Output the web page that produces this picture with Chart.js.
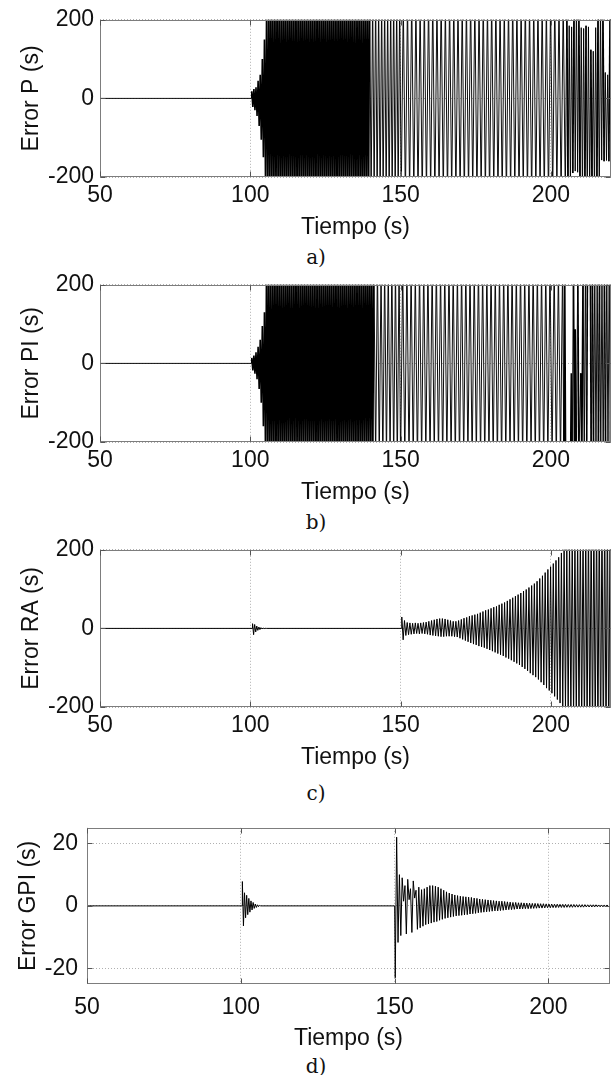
<!DOCTYPE html>
<html>
<head>
<meta charset="utf-8">
<title>Error de seguimiento</title>
<script src="https://cdn.jsdelivr.net/npm/chart.js@4.4.1/dist/chart.umd.min.js"></script>
<style>
body{ margin:0; background:#fff; width:613px; height:1075px; position:relative; overflow:hidden; }
canvas{ position:absolute; left:0; }
.cap{ position:absolute; left:266px; width:100px; text-align:center; font-family:"DejaVu Serif","Liberation Serif",serif; font-size:20px; line-height:24px; color:#111; }
</style>
</head>
<body>
<canvas id="c_p"   width="613" height="241" style="top:0px"></canvas>
<div class="cap" style="top:245px">a)</div>
<canvas id="c_pi"  width="613" height="241" style="top:265px"></canvas>
<div class="cap" style="top:510px">b)</div>
<canvas id="c_ra"  width="613" height="241" style="top:530px"></canvas>
<div class="cap" style="top:781px">c)</div>
<canvas id="c_gpi" width="613" height="247" style="top:805px"></canvas>
<div class="cap" style="top:1054px">d)</div>
<script>
// ejes
var X_TICKS     = [50, 100, 150, 200];
var Y_TICKS_BIG = [-200, 0, 200];
var Y_TICKS_GPI = [-20, 0, 20];

// segmentos: [t inicial (s), paso entre extremos (s), valores extremos]
// pares: [t, valor]

// ---- a) Error P
var errP_rest  = [[50, 0], [100.4, 0]];
var errP_grow  = [100.5, 0.35, [18,-22,24,-30,28,-45,45,-70,60,-105,100,-150,150,-205,210]];
var errP_dense = [105.75, 0.35, [
	-262,275,-270,281,-266,272,-279,268,-274,283,-261,270,-277,265,
	-271,279,-264,273,-282,267,-269,276,-263,280,-275,262,-268,277,
	-280,266,-272,274,-265,282,-276,263,-270,278,-267,271,-283,269,
	-264,276,-278,265,-273,281,-262,270,-279,267,-266,284,-271,274,
	-276,263,-269,280,-281,268,-265,277,-274,262,-283,272,-267,279,
	-268,282,-275,266,-262,273,-280,269,-271,285,-264,276,-278,263,
	-273,270,-266,284,-277,264,-282,271,-263,278,-269,267,-275,281]];
var errP_mid   = [140.2, 0.5, [-255,262,-248,270,-259,251,-266,258,-250,263,-257,249,-264,255,-252,268,-260,254,-249,261]];
var errP_late  = [150.2, 0.7, [
	-258,250,-262,255,-249,264,-256,251,-260,248,-265,257,-252,261,-247,259,-263,254,-250,266,
	-255,249,-261,258,-248,263,-257,252,-259,247,-264,256,-251,262,-246,258,-262,253,-249,265,
	-254,250,-260,257,-247,262,-256,251,-258,248,-263,255,-250,261,-247,257,-261,252,-248,264,
	-253,249,-259,256,-246,261,-255,250,-257,247,-262,254,-249,260,-246,256,-260,251,-252]];
var errP_end   = [[205.3,250],[205.7,-250],[206.1,185],[206.5,-240],[206.9,182],[207.3,-190],[207.7,240],[208.1,-185],
	[208.5,250],[208.9,-188],[209.3,245],[209.7,-240],[210.1,180],[210.5,-245],[210.9,178],[211.3,-250],
	[211.7,185],[212.1,-245],[212.5,182],[212.9,-250],[213.3,124],[213.7,-245],[214.1,120],[214.5,-250],
	[214.9,180],[215.3,-245],[215.7,240],[216.1,-250],[216.5,240],[216.9,-157],[217.3,245],[217.7,-160],
	[218.1,66],[218.5,-158],[218.9,60],[219.3,-160],[219.7,240],[220.1,-155]];

// ---- b) Error PI
var errPI_rest  = [[50, 0], [100.4, 0]];
var errPI_grow  = [100.5, 0.35, [14,-18,20,-26,28,-40,42,-65,60,-100,95,-160,130,-230]];
var errPI_dense = [105.4, 0.35, [
	268,-262,275,-270,259,-281,266,-258,272,-279,263,-274,
	277,-265,261,-283,270,-268,264,-276,282,-260,269,-273,
	259,-278,274,-266,281,-262,267,-280,263,-271,276,-269,
	271,-259,283,-274,262,-267,278,-282,265,-263,270,-277,
	264,-281,269,-261,276,-272,260,-269,284,-278,266,-264,
	280,-266,263,-279,272,-260,277,-275,261,-284,273,-268,
	267,-273,282,-264,259,-277,270,-262,279,-266,268,-281,
	275,-261,266,-270,283,-269,263,-278,271,-259,280,-272,
	270,-265,277,-260,268,-272]];
var errPI_mid   = [141.1, 0.6, [258,-250,262,-255,249,-264,256,-251,260,-248,265,-257,252,-261,254]];
var errPI_late  = [150.0, 0.7, [
	-262,255,-249,264,-256,251,-260,248,-265,257,-252,261,-247,259,-263,254,-250,266,-255,249,
	-261,258,-248,263,-257,252,-259,247,-264,256,-251,262,-246,258,-262,253,-249,265,-254,250,
	-260,257,-247,262,-256,251,-258,248,-263,255,-250,261,-247,257,-261,252,-248,264,-253,249,
	-259,256,-246,261,-255,250,-257,247,-262,254,-249,260,-246,256,-260,251,-252,258]];
var errPI_end   = [[204.3,-250],[204.6,250],[204.9,-250],[205.3,-320],[206.5,-300],[206.8,-25],[207.1,-250],
	[207.5,260],[207.85,-250],[208.1,87],[208.45,-260],[208.95,250],[209.3,-250],[209.95,-25],[210.3,-250],
	[210.7,250],[211.1,-250],[211.5,255],[211.9,-250],[212.2,300],[213.1,310],[213.4,-250],[213.8,255],
	[214.2,-250],[214.6,250],[215.0,-255],[215.4,250],[215.8,-250],[216.2,255],[216.6,-250],[217.0,250],
	[217.4,-255],[217.8,250],[218.2,-250],[218.6,255],[219.0,-250],[219.4,250],[219.8,-255],[220.2,250]];

// ---- c) Error RA
var errRA_rest  = [[50, 0], [100.6, 0]];
var errRA_kick  = [100.75, 0.35, [12,-16,10,-9,6,-5,3.5,-3,2,-1.5,1,-0.6,0.3,0]];
var errRA_rest2 = [[150.2, 0]];
var errRA_main  = [150.4, 0.45, [
	29,-29,20,-18,15,-16,14,-15,13,-14,
	14,-13,13,-14,14,-13,15,-14,16,-15,
	18,-17,20,-18,22,-19,24,-20,25,-21,
	25,-21,24,-20,22,-20,20,-20,18,-21,
	18,-22,20,-25,23,-28,26,-31,28,-34,
	31,-37,33,-40,35,-42,37,-45,40,-47,
	43,-49,46,-52,48,-55,51,-58,54,-61,
	56,-64,60,-67,63,-70,66,-74,70,-77,
	74,-81,78,-85,82,-89,86,-93,90,-98,
	95,-103,99,-108,104,-114,109,-119,114,-124,
	120,-130,127,-137,134,-144,142,-152,150,-158,
	157,-165,165,-173,173,-181,181,-190,192,-200,
	205,-212,215,-222,225,-232,235,-240,242,-248,
	250,-256,258,-262,265,-270,272,-276,278,-282,
	285,-290,292,-296,298,-302,305,-308,310,-314,
	316,-320,322,-326,328,-330]];

// ---- d) Error GPI
var errGPI_rest  = [[50, 0], [100.4, 0]];
var errGPI_kick  = [100.5, 0.35, [7.8,-6.4,4.2,-3.8,3.4,-2.8,2.4,-2,1.6,-1.3,1.1,-0.8,0.6,-0.5,0.35,-0.25,0.15,0]];
var errGPI_rest2 = [[150.0, 0]];
var errGPI_main  = [150.2, 0.45, [
	-23,22,-11.7,10,-9.5,9,1.5,6.5,-9,8.5,
	2,5.5,-8.5,8,2.5,5,-7.5,6,-7,5.2,
	-6.5,5.5,-6,6,-5.8,6.5,-5.5,6.5,-5.2,6.3,
	-5,6,-4.6,5.5,-4.3,5,-4,4.5,-3.8,4.1,
	-3.6,3.8,-3.4,3.5,-3.2,3.3,-3.1,3.1,-3,3,
	-2.9,2.9,-2.8,2.8,-2.6,2.7,-2.5,2.5,-2.4,2.4,
	-2.2,2.2,-2.1,2.1,-2,2,-1.9,1.9,-1.8,1.8,
	-1.7,1.7,-1.6,1.6,-1.6,1.5,-1.5,1.5,-1.4,1.4,
	-1.3,1.3,-1.2,1.2,-1.2,1.1,-1.1,1.1,-1,1,
	-1,1,-0.95,0.95,-0.9,0.9,-0.9,0.85,-0.85,0.8,
	-0.8,0.8,-0.75,0.75,-0.7,0.7,-0.7,0.7,-0.65,0.65,
	-0.6,0.6,-0.6,0.6,-0.55,0.55,-0.55,0.55,-0.5,0.5,
	-0.5,0.5,-0.5,0.5,-0.45,0.45,-0.45,0.45,-0.45,0.45,
	-0.4,0.4,-0.4,0.4,-0.4,0.4,-0.4,0.4,-0.35,0.35,
	-0.35,0.35,-0.35,0.35,-0.35,0.35,-0.3,0.3,-0.3,0.3,
	-0.3,0.3,-0.3,0.3,-0.3,0.3]];


var FONT = { family : '"Liberation Sans", Arial, Helvetica, sans-serif', size : 23 };

// segmento -> puntos {x,y}
var segPoints = function( seg ){
	var t0 = seg[0], dt = seg[1], vals = seg[2], pts = [], i;
	for( i=0; i<vals.length; i++ ){
		pts.push({ x : Math.round( (t0 + dt*i)*1000 )/1000, y : vals[i] });
	}
	return pts;
};
var pairPoints = function( list ){
	return list.map(function( p ){ return { x : p[0], y : p[1] }; });
};

// caja de ejes + marcas hacia dentro (estilo matlab)
var boxPlugin = {
	id : 'axisBox',
	afterDraw : function( chart ){
		var ctx = chart.ctx, a = chart.chartArea;
		var xs = chart.scales.x, ys = chart.scales.y;
		var L = Math.round(a.left) + 0.5, R = Math.round(a.right) - 0.5;
		var T = Math.round(a.top) + 0.5,  B = Math.round(a.bottom) - 0.5;
		ctx.save();
		ctx.strokeStyle = '#7d7d7d';
		ctx.lineWidth = 1;
		ctx.strokeRect( L, T, R - L, B - T );
		ctx.strokeStyle = '#555';
		ctx.beginPath();
		xs.ticks.forEach(function( t ){
			var px = Math.round( xs.getPixelForValue( t.value ) ) + 0.5;
			ctx.moveTo( px, B ); ctx.lineTo( px, B - 5 );
			ctx.moveTo( px, T ); ctx.lineTo( px, T + 5 );
		});
		ys.ticks.forEach(function( t ){
			var py = Math.round( ys.getPixelForValue( t.value ) ) + 0.5;
			ctx.moveTo( L, py ); ctx.lineTo( L + 5, py );
			ctx.moveTo( R, py ); ctx.lineTo( R - 5, py );
		});
		ctx.stroke();
		ctx.restore();
	}
};

var makeChart = function( id, points, yLabel, yMin, yMax, yTicks, opt ){
	return new Chart( document.getElementById( id ), {
		type : 'line',
		data : {
			datasets : [{
				data : points,
				borderColor : '#000',
				borderWidth : 1,
				borderJoinStyle : 'bevel',
				pointRadius : 0,
				tension : 0,
				fill : false,
				// zonas muy densas se ven negras, las otras grises
				segment : {
					borderWidth : function( c ){
						return ( c.p1.parsed.x - c.p0.parsed.x ) < 0.4 ? opt.wDense : opt.wSparse;
					}
				}
			}]
		},
		options : {
			responsive : false,
			animation : false,
			events : [],
			parsing : false,
			layout : { padding : { left : 0, right : opt.padRight, top : 16, bottom : 0 } },
			plugins : { legend : { display : false }, tooltip : { enabled : false } },
			scales : {
				x : {
					type : 'linear', min : 50, max : 220, z : 1,
					afterBuildTicks : function( s ){ s.ticks = X_TICKS.map(function( v ){ return { value : v }; }); },
					afterFit : function( s ){ s.height = opt.xH; },
					grid : { color : '#b0b0b0', drawTicks : false },
					border : { display : false, dash : [1, 2] },
					ticks : { padding : opt.xPad, color : '#111', font : FONT, maxRotation : 0 },
					title : { display : true, text : 'Tiempo (s)', color : '#111', font : FONT, padding : 0 }
				},
				y : {
					type : 'linear', min : yMin, max : yMax, z : 1,
					afterBuildTicks : function( s ){ s.ticks = yTicks.map(function( v ){ return { value : v }; }); },
					afterFit : function( s ){ s.width = opt.yW; },
					grid : { color : '#b0b0b0', drawTicks : false },
					border : { display : false, dash : [1, 2] },
					ticks : { padding : opt.yPad, color : '#111', font : FONT },
					title : { display : true, text : yLabel, color : '#111', font : FONT, padding : { top : opt.yTitlePad, bottom : 0 } }
				}
			}
		},
		plugins : [ boxPlugin ]
	});
};

var OPT_BIG = { padRight : 2, xH : 64, yW : 100, xPad : 5, yPad : 6, yTitlePad : 18, wDense : 1.6, wSparse : 0.95 };
var OPT_RA  = { padRight : 2, xH : 64, yW : 100, xPad : 5, yPad : 6, yTitlePad : 18, wDense : 1, wSparse : 1 };
var OPT_GPI = { padRight : 3, xH : 68, yW : 87,  xPad : 10, yPad : 9, yTitlePad : 15, wDense : 1, wSparse : 1 };

makeChart( 'c_p',
	pairPoints( errP_rest ).concat( segPoints( errP_grow ), segPoints( errP_dense ), segPoints( errP_mid ), segPoints( errP_late ), pairPoints( errP_end ) ),
	'Error P (s)', -200, 200, Y_TICKS_BIG, OPT_BIG );
makeChart( 'c_pi',
	pairPoints( errPI_rest ).concat( segPoints( errPI_grow ), segPoints( errPI_dense ), segPoints( errPI_mid ), segPoints( errPI_late ), pairPoints( errPI_end ) ),
	'Error PI (s)', -200, 200, Y_TICKS_BIG, OPT_BIG );
makeChart( 'c_ra',
	pairPoints( errRA_rest ).concat( segPoints( errRA_kick ), pairPoints( errRA_rest2 ), segPoints( errRA_main ) ),
	'Error RA (s)', -200, 200, Y_TICKS_BIG, OPT_RA );
makeChart( 'c_gpi',
	pairPoints( errGPI_rest ).concat( segPoints( errGPI_kick ), pairPoints( errGPI_rest2 ), segPoints( errGPI_main ) ),
	'Error GPI (s)', -25, 25, Y_TICKS_GPI, OPT_GPI );
</script>
</body>
</html>
